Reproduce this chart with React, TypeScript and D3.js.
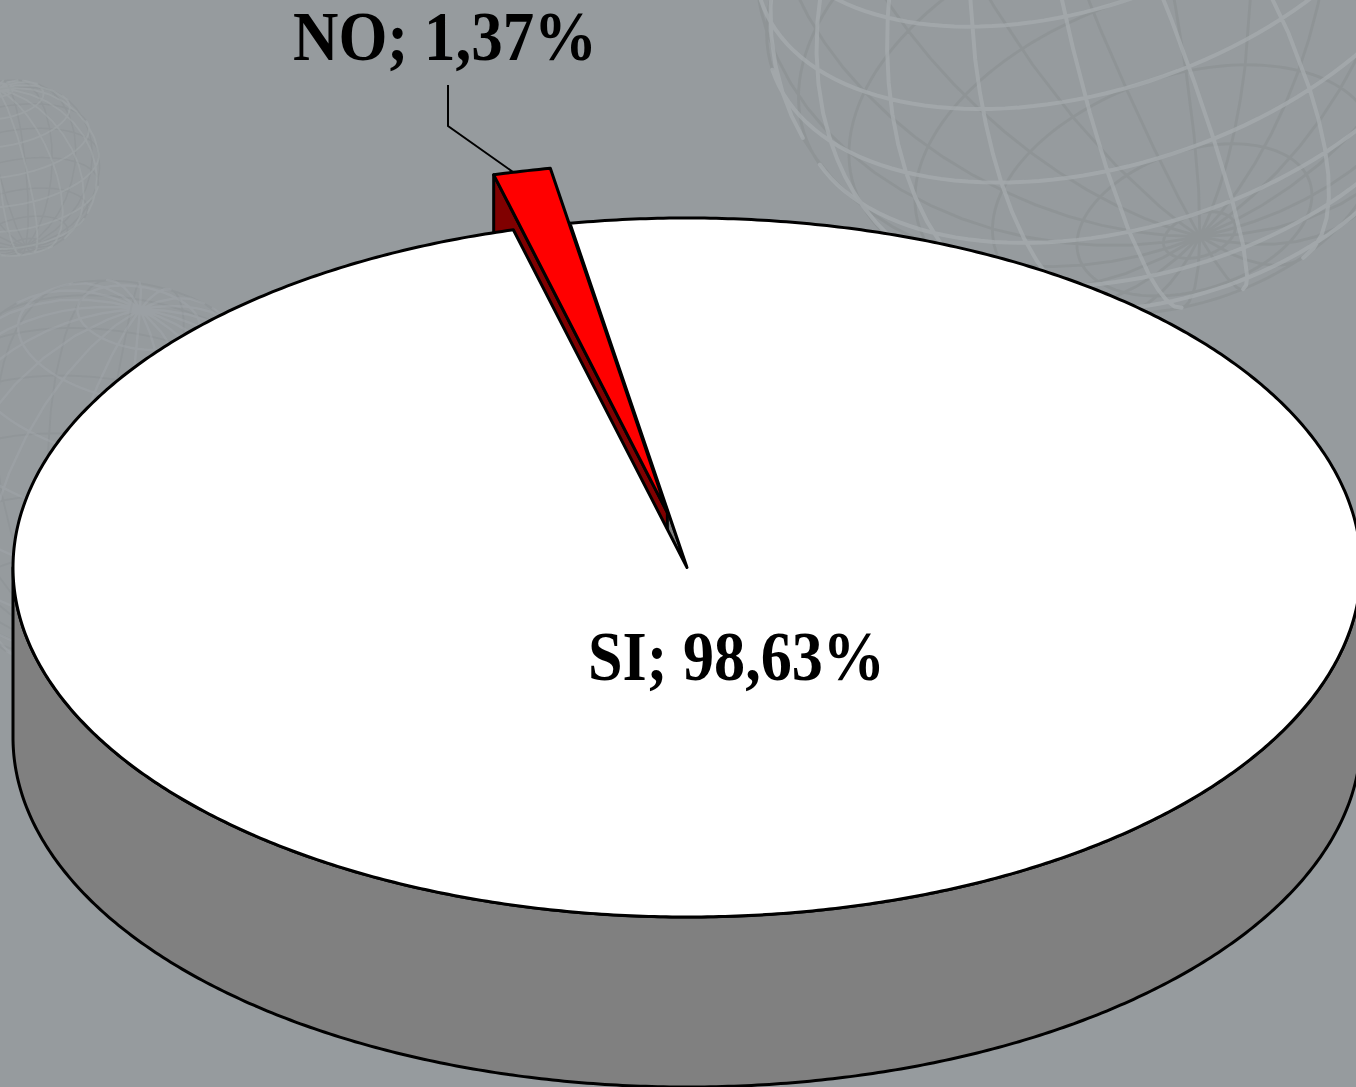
import React from 'react';
import * as d3 from 'd3';

// chart data
const categories = ['SI', 'NO'];
const values = [98.63, 1.37];
const valueLabels = ['98,63%', '1,37%'];
const exploded = [0, 0.16];
const topColors = ['#ffffff', '#ff0000'];
const sideColors = ['#808080', '#800000'];

const W = 1356;
const H = 1087;

// pie geometry (ellipse of the top face)
const cx = 687;
const cy = 567.5;
const rx = 674;
const ry = 349.5;
const depth = 170;
const startDeg = -10;

function rad(deg: number) {
	return deg * Math.PI / 180;
}

function Globe({ x, y, r, rot, step, color, width, opacity }: any) {
	const proj = d3.geoOrthographic().scale(r).translate([x, y]).rotate(rot);
	const back = d3.geoOrthographic().scale(r).translate([x, y]).rotate([rot[0] + 180, -rot[1], -rot[2]]).reflectX(true);
	const grat = d3.geoGraticule().step(step)();
	const p = d3.geoPath(proj);
	const pb = d3.geoPath(back);
	return (
		<g fill="none" strokeLinecap="round">
			<path d={pb(grat) || ''} stroke="#898e91" strokeWidth={width * 0.7} opacity={opacity * 0.8} />
			<path d={p(grat) || ''} stroke={color} strokeWidth={width} opacity={opacity} />
		</g>
	);
}

export default function App() {
	const pie = d3.pie<number>().sort(null).startAngle(rad(startDeg)).endAngle(rad(startDeg + 360));
	const arcs = pie(values);

	const line = d3.line();

	const pt = (a: number, r: number, off: number[], h = 0): [number, number] =>
		[cx + off[0] + rx * r * Math.sin(a), cy + off[1] - ry * r * Math.cos(a) + h];

	const arcPts = (a0: number, a1: number, off: number[], h = 0) => {
		const n = Math.max(2, Math.ceil(Math.abs(a1 - a0) / rad(0.5)));
		return d3.range(n + 1).map(i => pt(a0 + (a1 - a0) * i / n, 1, off, h));
	};

	const slices = arcs.map((d, i) => {
		// pull direction, leaning to the slice's closing edge
		const dir = d.startAngle + (d.endAngle - d.startAngle) * 0.9;
		const e = exploded[i];
		const off = [rx * e * Math.sin(dir), -ry * e * Math.cos(dir)];
		const c = pt(0, 0, off);
		const top = line([c, ...arcPts(d.startAngle, d.endAngle, off), c]) + 'Z';

		// outer wall, front half only
		const f0 = Math.max(d.startAngle, Math.PI / 2);
		const f1 = Math.min(d.endAngle, Math.PI * 1.5);
		const outer = f1 > f0
			? line([...arcPts(f0, f1, off), ...arcPts(f1, f0, off, depth)]) + 'Z'
			: null;

		// radial cut faces, only those turned toward the viewer
		const cuts: string[] = [];
		if (-Math.sin(d.startAngle) > 0) {
			const rim = pt(d.startAngle, 1, off);
			cuts.push(line([c, rim, [rim[0], rim[1] + depth], [c[0], c[1] + depth]]) + 'Z');
		}
		if (Math.sin(d.endAngle) > 0) {
			const rim = pt(d.endAngle, 1, off);
			cuts.push(line([c, rim, [rim[0], rim[1] + depth], [c[0], c[1] + depth]]) + 'Z');
		}
		return { d, i, off, top, outer, cuts };
	});

	const si = slices[0];
	const no = slices[1];

	// leader for the small slice
	const noArc = no.d;
	const anchor = pt(noArc.startAngle + (noArc.endAngle - noArc.startAngle) * 0.35, 1, no.off);
	const leader = line([[448, 85], [448, 126], anchor]) || '';

	const stroke = { stroke: '#000', strokeWidth: 3, strokeLinejoin: 'round' as const };

	const noText = `${categories[1]}; ${valueLabels[1]}`;
	const siText = `${categories[0]}; ${valueLabels[0]}`;

	return (
		<svg width={W} height={H} style={{ position: 'absolute', left: 0, top: 0 }}>
			<defs>
				<clipPath id="frame"><rect width={W} height={H} /></clipPath>
			</defs>
			<rect width={W} height={H} fill="#969b9e" />
			<g clipPath="url(#frame)">
				<Globe x={1110} y={-40} r={355} rot={[25, -35, 18]} step={[18, 14]} color="#a7acaf" width={4} opacity={0.7} />
				<Globe x={12} y={168} r={88} rot={[10, -25, 10]} step={[20, 20]} color="#a2a7aa" width={2} opacity={0.5} />
				<Globe x={110} y={480} r={200} rot={[-15, -30, -10]} step={[18, 18]} color="#a2a7aa" width={2.5} opacity={0.45} />

				{/* walls */}
				{si.outer && <path d={si.outer} fill={sideColors[0]} {...stroke} />}
				{si.cuts.map((p, k) => <path key={'sc' + k} d={p} fill={sideColors[0]} {...stroke} />)}
				{no.cuts.map((p, k) => <path key={'nc' + k} d={p} fill={sideColors[1]} {...stroke} />)}
				{/* tops */}
				<path d={no.top} fill={topColors[1]} {...stroke} />
				<path d={si.top} fill={topColors[0]} {...stroke} />
			</g>

			<path d={leader} fill="none" stroke="#000" strokeWidth={2} />

			<g fontFamily="'Liberation Serif', 'Times New Roman', serif" fontWeight="bold" fontSize={70} fill="#000">
				<text x={293} y={60} textLength={304} lengthAdjust="spacingAndGlyphs">{noText}</text>
				<text x={588} y={680} textLength={297} lengthAdjust="spacingAndGlyphs">{siText}</text>
			</g>
		</svg>
	);
}
